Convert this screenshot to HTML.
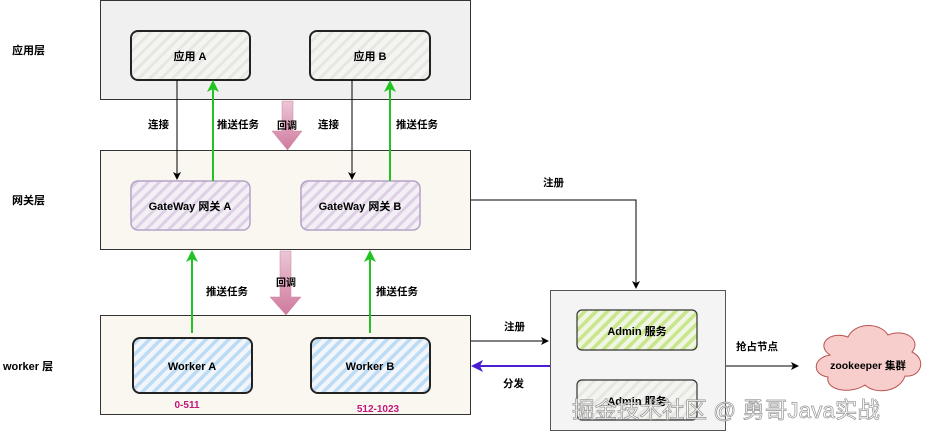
<!DOCTYPE html>
<html><head><meta charset="utf-8"><style>
html,body{margin:0;padding:0;background:#fff;}
svg{display:block;font-family:"Liberation Sans","Noto Sans CJK SC",sans-serif;font-weight:bold;}
</style></head><body>
<svg width="931" height="441" viewBox="0 0 931 441" xmlns="http://www.w3.org/2000/svg">
<defs>
<pattern id="pg" width="8" height="8" patternUnits="userSpaceOnUse" patternTransform="rotate(45)"><rect width="8" height="8" fill="#f4f4f0"/><rect width="3" height="8" fill="#e6e6e2"/></pattern>
<pattern id="pp" width="8" height="8" patternUnits="userSpaceOnUse" patternTransform="rotate(45)"><rect width="8" height="8" fill="#f4eff4"/><rect width="3" height="8" fill="#ddd0e6"/></pattern>
<pattern id="pb" width="8" height="8" patternUnits="userSpaceOnUse" patternTransform="rotate(45)"><rect width="8" height="8" fill="#f2f6fa"/><rect width="3.5" height="8" fill="#bcdcf5"/></pattern>
<pattern id="pl" width="8" height="8" patternUnits="userSpaceOnUse" patternTransform="rotate(45)"><rect width="8" height="8" fill="#f0f5e4"/><rect width="3.5" height="8" fill="#c8e68a"/></pattern>
<linearGradient id="pk" x1="0" y1="0" x2="0" y2="1"><stop offset="0" stop-color="#ecc6d6"/><stop offset="1" stop-color="#cf7a9e"/></linearGradient>
<marker id="ab" markerWidth="8" markerHeight="8" refX="7" refY="4" orient="auto" markerUnits="userSpaceOnUse"><path d="M0,0 L8,4 L0,8 L2,4z" fill="#000"/></marker>
<marker id="ag" markerWidth="12" markerHeight="12" refX="10" refY="6" orient="auto" markerUnits="userSpaceOnUse"><path d="M0,0 L12,6 L0,12 L3,6z" fill="#22c322"/></marker>
<marker id="au" markerWidth="12" markerHeight="12" refX="10" refY="6" orient="auto" markerUnits="userSpaceOnUse"><path d="M0,0 L12,6 L0,12 L3,6z" fill="#4b1fd1"/></marker>
</defs>
<rect width="931" height="441" fill="#fff"/>
<rect x="100.5" y="0.5" width="370" height="99" fill="#f0f0f0" stroke="#333"/>
<rect x="100.5" y="150.5" width="370" height="99" fill="#f9f7ef" stroke="#333"/>
<rect x="100.5" y="315.5" width="370" height="99" fill="#f9f7ef" stroke="#333"/>
<rect x="550.5" y="290.5" width="175" height="140" fill="#f4f4f4" stroke="#555"/>
<text x="12" y="54" font-size="11">应用层</text>
<text x="12" y="204" font-size="11">网关层</text>
<text x="3" y="370" font-size="11">worker 层</text>
<rect x="131" y="31" width="119" height="49" rx="7" fill="url(#pg)" stroke="#222" stroke-width="2"/>
<rect x="310" y="31" width="120" height="49" rx="7" fill="url(#pg)" stroke="#222" stroke-width="2"/>
<text x="190" y="60" font-size="11" text-anchor="middle">应用 A</text>
<text x="370" y="60" font-size="11" text-anchor="middle">应用 B</text>
<rect x="131" y="181" width="119" height="49" rx="7" fill="url(#pp)" stroke="#b5a3c9" stroke-width="1.5"/>
<rect x="301" y="181" width="119" height="49" rx="7" fill="url(#pp)" stroke="#b5a3c9" stroke-width="1.5"/>
<text x="190" y="210" font-size="11" text-anchor="middle">GateWay 网关 A</text>
<text x="360" y="210" font-size="11" text-anchor="middle">GateWay 网关 B</text>
<rect x="133" y="338" width="119" height="55" rx="7" fill="url(#pb)" stroke="#222" stroke-width="2"/>
<rect x="311" y="338" width="119" height="55" rx="7" fill="url(#pb)" stroke="#222" stroke-width="2"/>
<text x="192" y="370" font-size="11" text-anchor="middle">Worker A</text>
<text x="370" y="370" font-size="11" text-anchor="middle">Worker B</text>
<text x="187" y="408" font-size="10" text-anchor="middle" fill="#c0177a">0-511</text>
<text x="378" y="412" font-size="10" text-anchor="middle" fill="#c0177a">512-1023</text>
<rect x="577" y="310" width="120" height="40" rx="5" fill="url(#pl)" stroke="#333" stroke-width="1.2"/>
<rect x="577" y="380" width="120" height="40" rx="5" fill="url(#pg)" stroke="#333" stroke-width="1.2"/>
<text x="637" y="335" font-size="11" text-anchor="middle">Admin 服务</text>
<text x="637" y="405" font-size="11" text-anchor="middle">Admin 服务</text>
<path d="M830,355 C815,345 830,330 848,337 C855,322 880,322 888,335 C905,328 922,340 912,352 C928,360 920,378 905,376 C900,392 875,395 865,385 C850,395 825,390 828,377 C812,375 812,358 830,355Z" fill="#f8cecc" stroke="#b85450"/>
<text x="868" y="369" font-size="10.5" text-anchor="middle">zookeeper 集群</text>
<line x1="177" y1="80" x2="177" y2="179" stroke="#000" marker-end="url(#ab)"/>
<line x1="352" y1="80" x2="352" y2="179" stroke="#000" marker-end="url(#ab)"/>
<line x1="213" y1="181" x2="213" y2="82" stroke="#22c322" stroke-width="2" marker-end="url(#ag)"/>
<line x1="390" y1="181" x2="390" y2="82" stroke="#22c322" stroke-width="2" marker-end="url(#ag)"/>
<text x="148" y="128" font-size="10.5">连接</text>
<text x="318" y="128" font-size="10.5">连接</text>
<text x="217" y="128" font-size="10.5">推送任务</text>
<text x="396" y="128" font-size="10.5">推送任务</text>
<path d="M282,101 H293 V131 H302 L287.5,150 L272,131 H282Z" fill="url(#pk)" stroke="#c9859f" stroke-width="0.5"/>
<text x="287" y="129" font-size="10" text-anchor="middle">回调</text>
<path d="M280,251 H291 V297 H301 L286,315 L270,297 H280Z" fill="url(#pk)" stroke="#c9859f" stroke-width="0.5"/>
<text x="286" y="286" font-size="10" text-anchor="middle">回调</text>
<line x1="192" y1="333" x2="192" y2="252" stroke="#22c322" stroke-width="2" marker-end="url(#ag)"/>
<line x1="370" y1="333" x2="370" y2="252" stroke="#22c322" stroke-width="2" marker-end="url(#ag)"/>
<text x="206" y="295" font-size="10.5">推送任务</text>
<text x="376" y="295" font-size="10.5">推送任务</text>
<polyline points="471,200 636,200 636,288" fill="none" stroke="#000" marker-end="url(#ab)"/>
<text x="543" y="186" font-size="10.5">注册</text>
<line x1="471" y1="341" x2="548" y2="341" stroke="#000" marker-end="url(#ab)"/>
<text x="504" y="330" font-size="10.5">注册</text>
<line x1="550" y1="366" x2="473" y2="366" stroke="#4b1fd1" stroke-width="2" marker-end="url(#au)"/>
<text x="503" y="387" font-size="10.5">分发</text>
<line x1="726" y1="366" x2="798" y2="366" stroke="#000" marker-end="url(#ab)"/>
<text x="736" y="350" font-size="10.5">抢占节点</text>
<text x="572" y="418" font-size="22.5" font-weight="normal" fill="#fff" stroke="#888" stroke-width="0.7" opacity="0.9">掘金技术社区 @ 勇哥Java实战</text>
</svg>
</body></html>
